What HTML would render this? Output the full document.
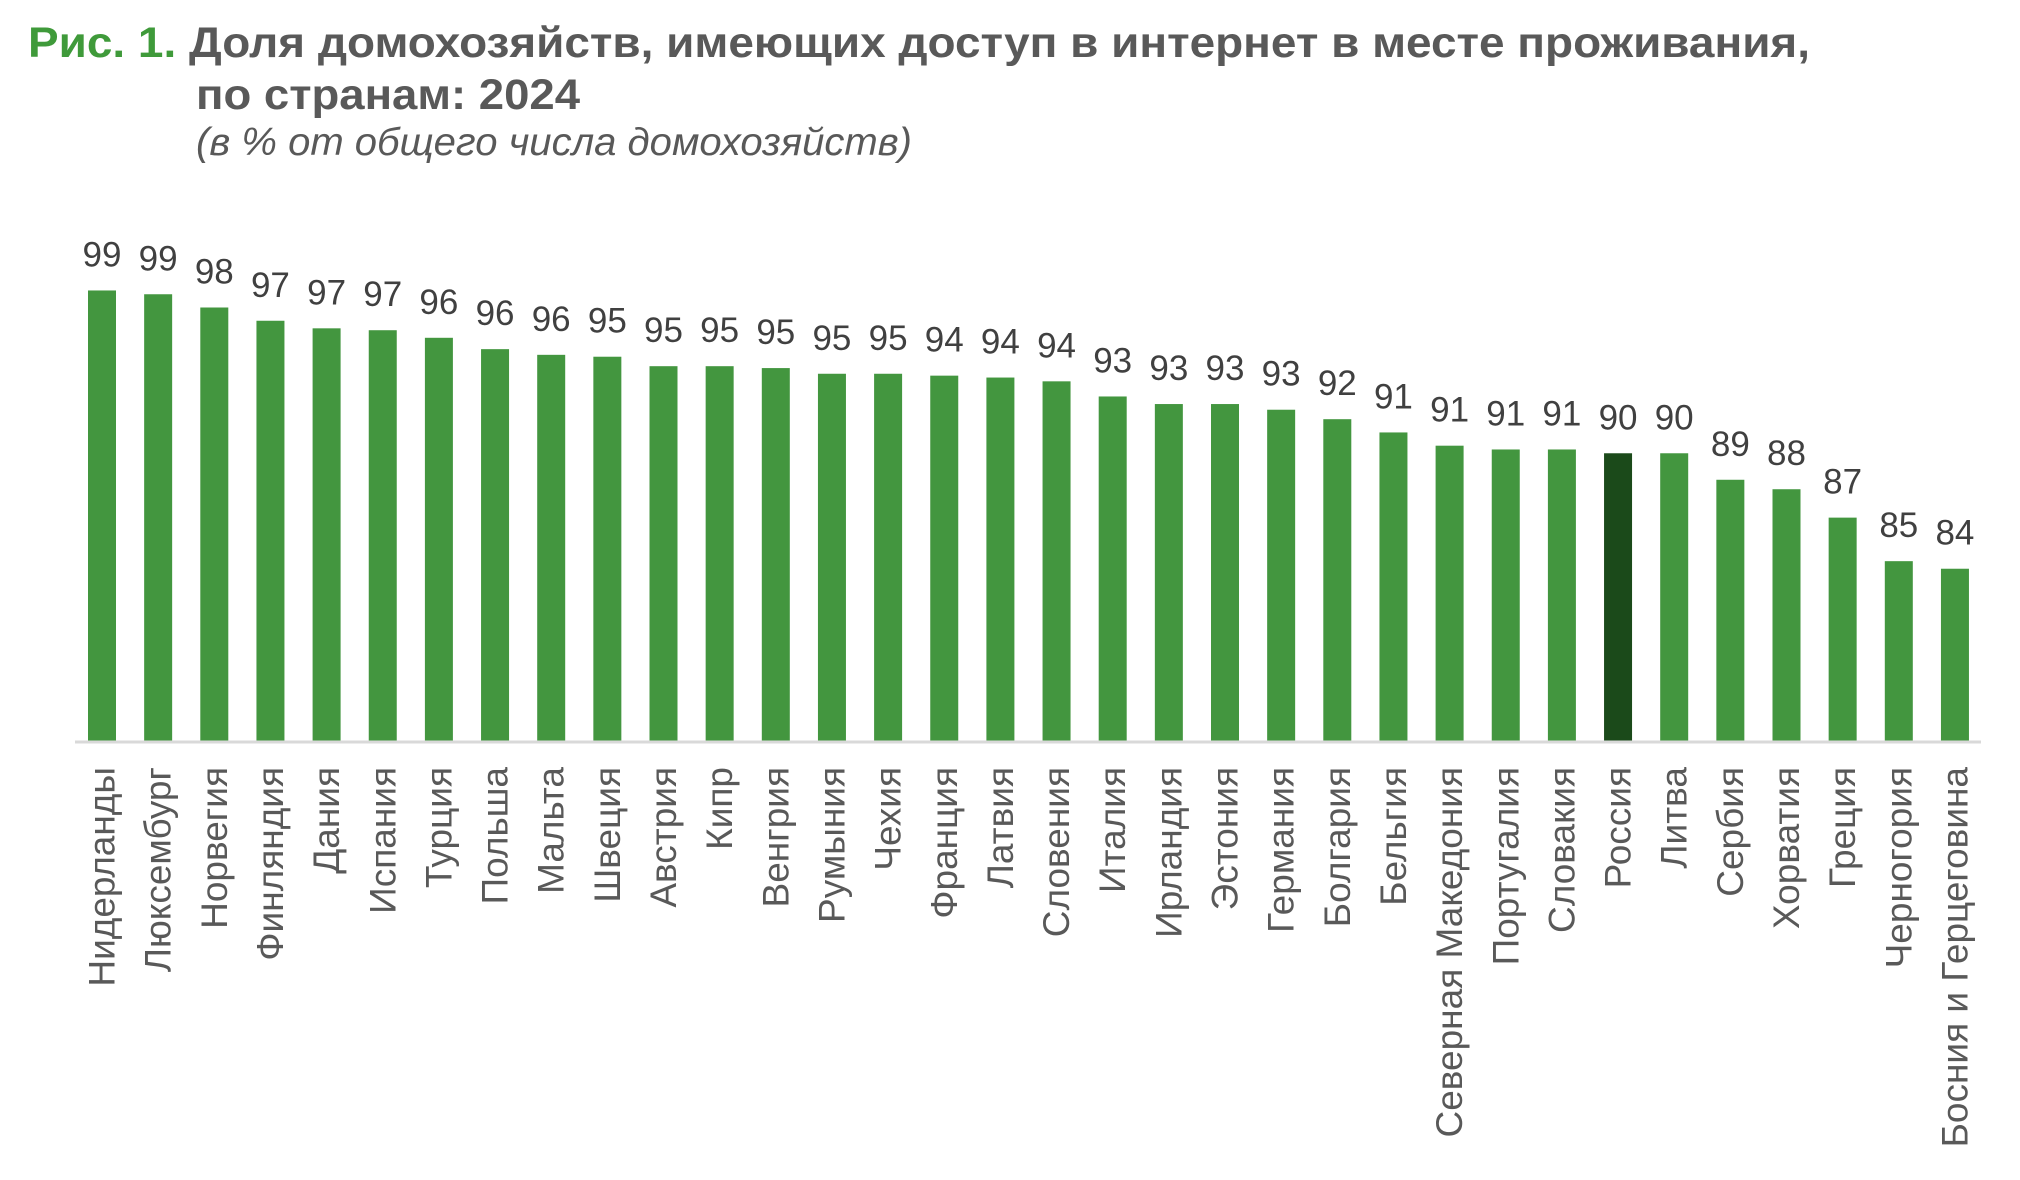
<!DOCTYPE html>
<html><head><meta charset="utf-8"><style>
html,body{margin:0;padding:0;background:#fff;}
svg{display:block;font-family:"Liberation Sans",sans-serif;}
</style></head><body>
<svg id="chart" width="2020" height="1180" viewBox="0 0 2020 1180">
<text x="28" y="57" font-size="43" font-weight="bold" fill="#595959" textLength="1782" lengthAdjust="spacingAndGlyphs"><tspan fill="#3f9a3a">Рис. 1.</tspan> Доля домохозяйств, имеющих доступ в интернет в месте проживания,</text>
<text x="196" y="109" font-size="43" font-weight="bold" fill="#595959" textLength="384" lengthAdjust="spacingAndGlyphs">по странам: 2024</text>
<text x="196" y="155" font-size="39" font-style="italic" fill="#595959" textLength="716" lengthAdjust="spacingAndGlyphs">(в % от общего числа домохозяйств)</text>
<g id="bars"></g>
<line x1="75" y1="742" x2="1981" y2="742" stroke="#d9d9d9" stroke-width="3"/>
</svg>
<script>
const categories = ["Нидерланды","Люксембург","Норвегия","Финляндия","Дания","Испания","Турция","Польша","Мальта","Швеция","Австрия","Кипр","Венгрия","Румыния","Чехия","Франция","Латвия","Словения","Италия","Ирландия","Эстония","Германия","Болгария","Бельгия","Северная Македония","Португалия","Словакия","Россия","Литва","Сербия","Хорватия","Греция","Черногория","Босния и Герцеговина"];
const values = [98.8,98.6,97.9,97.2,96.8,96.7,96.3,95.7,95.4,95.3,94.8,94.8,94.7,94.4,94.4,94.3,94.2,94.0,93.2,92.8,92.8,92.5,92.0,91.3,90.6,90.4,90.4,90.2,90.2,88.8,88.3,86.8,84.5,84.1];
const valueLabels = ["99","99","98","97","97","97","96","96","96","95","95","95","95","95","95","94","94","94","93","93","93","93","92","91","91","91","91","90","90","89","88","87","85","84"];
const highlight = ["Россия"];

const NS = "http://www.w3.org/2000/svg";
const yMin = 75, pxPerUnit = 18.93, axisY = 741;
const x0 = 88, pitch = 56.15, barW = 28;
function xScale(i){ return x0 + i*pitch; }
function yScale(v){ return axisY - (v - yMin)*pxPerUnit; }
const g = document.getElementById('bars');
categories.forEach((c,i)=>{
  const x = xScale(i), y = yScale(values[i]);
  const r = document.createElementNS(NS,'rect');
  
  
  r.setAttribute('x', x); r.setAttribute('y', y);
  r.setAttribute('width', barW); r.setAttribute('height', axisY - y);
  r.setAttribute('fill', highlight.includes(c) ? '#1b4a1a' : '#43963f');
  g.appendChild(r);
  const t = document.createElementNS(NS,'text');
  
  
  t.setAttribute('x', x + barW/2); t.setAttribute('y', y - 24);
  t.setAttribute('text-anchor','middle'); t.setAttribute('font-size','35');
  t.setAttribute('fill','#404040');
  t.textContent = valueLabels[i];
  g.appendChild(t);
  const l = document.createElementNS(NS,'text');
  
  
  const cx = x + barW/2, cy = 767;
  l.setAttribute('transform', 'translate(' + cx + ',' + cy + ') rotate(-90)');
  l.setAttribute('text-anchor','end'); l.setAttribute('dominant-baseline','central');
  l.setAttribute('font-size','37'); l.setAttribute('fill','#595959');
  l.textContent = c;
  g.appendChild(l);
});
</script>
</body></html>
